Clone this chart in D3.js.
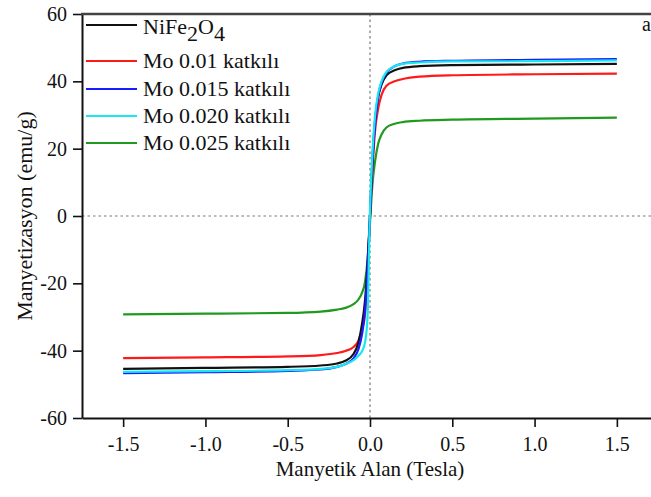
<!DOCTYPE html>
<html>
<head>
<meta charset="utf-8">
<script src="https://cdn.jsdelivr.net/npm/d3@7"></script>
<style>
    body { margin: 0; background: #fff; }
    text { font-family: "Liberation Serif", "Times New Roman", serif; fill: #111; }
</style>
</head>
<body>
<svg id="chart" width="651" height="497"></svg>
<script>
// field values (Tesla), shared by all samples
var field = [-1.5, -1.0, -0.5, -0.3, -0.2, -0.15, -0.1, -0.07, -0.05, -0.03, -0.015, 0,
    0.015, 0.03, 0.05, 0.07, 0.1, 0.15, 0.2, 0.3, 0.5, 1.0, 1.5];

// magnetization (emu/g)
var nife2o4 = [-45.4, -45.1, -44.8, -44.4, -43.8, -43.0, -41.0, -37.5, -32.5, -25, -14, 0,
    17, 28, 35.5, 39, 41.8, 43.3, 44.0, 44.5, 44.8, 45.0, 45.2];
var mo010 = [-42.2, -42.0, -41.7, -41.3, -40.7, -40.1, -38.9, -37, -34, -29, -18, 0,
    14, 25, 32, 36, 38.7, 40.0, 40.7, 41.4, 41.8, 42.1, 42.3];
var mo015 = [-46.7, -46.4, -46.0, -45.6, -44.8, -44.0, -42.3, -39.5, -35.5, -28, -16, 0,
    16, 27, 35.5, 39.5, 42.5, 44.5, 45.3, 45.8, 46.1, 46.4, 46.6];
var mo020 = [-46.3, -46.1, -45.8, -45.4, -44.8, -44.0, -42.8, -41.5, -40.3, -37.5, -30, 2,
    19, 29.5, 36.5, 40, 42.8, 44.5, 45.2, 45.6, 45.9, 46.0, 46.2];
var mo025 = [-29.2, -29.0, -28.8, -28.4, -27.8, -27.3, -26.2, -24.8, -23, -19.5, -13, -2,
    9.5, 16, 21.5, 24.2, 26.3, 27.4, 27.9, 28.3, 28.6, 28.9, 29.2];

var seriesNames = ['NiFe2O4', 'Mo 0.01 katkılı', 'Mo 0.015 katkılı', 'Mo 0.020 katkılı', 'Mo 0.025 katkılı'];
var seriesColors = ['#111111', '#ff1a1a', '#1a1aff', '#1ae6f0', '#1f9a1f'];
var seriesValues = [nife2o4, mo010, mo015, mo020, mo025];

var xTicks = [-1.5, -1.0, -0.5, 0.0, 0.5, 1.0, 1.5];
var yTicks = [-60, -40, -20, 0, 20, 40, 60];

var svg = d3.select('#chart');

var x = d3.scaleLinear().domain([-1.75, 1.75]).range([82, 658]);
var y = d3.scaleLinear().domain([-60, 60]).range([418, 14]);

// zero reference lines
svg.append('line')
    .attr('x1', x(0)).attr('x2', x(0))
    .attr('y1', y(60)).attr('y2', y(-60))
    .attr('stroke', '#777').attr('stroke-width', 1.2)
    .attr('stroke-dasharray', '2.5,3');
svg.append('line')
    .attr('x1', x(-1.75)).attr('x2', 651)
    .attr('y1', y(0)).attr('y2', y(0))
    .attr('stroke', '#777').attr('stroke-width', 1.2)
    .attr('stroke-dasharray', '2.5,3');

// curves
var line = d3.line()
    .x(function (d, i) { return x(field[i]); })
    .y(function (d) { return y(d); })
    .curve(d3.curveMonotoneX);

// draw order: cyan ends up on top like in the original
[4, 1, 0, 2, 3].forEach(function (k) {
    svg.append('path')
        .attr('d', line(seriesValues[k]))
        .attr('fill', 'none')
        .attr('stroke', seriesColors[k])
        .attr('stroke-width', 2.2);
});

// axes
var minorX = d3.range(-1.75, 1.76, 0.25);
var minorY = d3.range(-60, 61, 10);

var xAxis = svg.append('g')
    .attr('transform', 'translate(0,' + y(-60) + ')');
xAxis.call(d3.axisBottom(x).tickValues(minorX).tickSize(5).tickSizeOuter(0).tickFormat(''));
xAxis.call(d3.axisBottom(x).tickValues(xTicks).tickSize(9).tickSizeOuter(0).tickPadding(10)
    .tickFormat(function (d) { return d.toFixed(1); }));
xAxis.selectAll('path').attr('stroke', '#111').attr('stroke-width', 2);
xAxis.selectAll('line').attr('stroke', '#111').attr('stroke-width', 1.6);
xAxis.selectAll('text')
    .attr('font-size', 20)
    .style('font-family', '"Liberation Serif", serif');

var yAxis = svg.append('g')
    .attr('transform', 'translate(' + x(-1.75) + ',0)');
yAxis.call(d3.axisLeft(y).tickValues(minorY).tickSize(5).tickSizeOuter(0).tickFormat(''));
yAxis.call(d3.axisLeft(y).tickValues(yTicks).tickSize(9).tickSizeOuter(0).tickPadding(6)
    .tickFormat(function (d) { return String(d); }));
yAxis.selectAll('path').attr('stroke', '#111').attr('stroke-width', 2);
yAxis.selectAll('line').attr('stroke', '#111').attr('stroke-width', 1.6);
yAxis.selectAll('text')
    .attr('font-size', 20)
    .style('font-family', '"Liberation Serif", serif');

// top frame
svg.append('line')
    .attr('x1', x(-1.75) - 1).attr('x2', 651)
    .attr('y1', y(60)).attr('y2', y(60))
    .attr('stroke', '#444').attr('stroke-width', 2.5);

// axis titles
svg.append('text')
    .attr('x', x(0)).attr('y', 476)
    .attr('text-anchor', 'middle')
    .attr('font-size', 21)
    .text('Manyetik Alan (Tesla)');
svg.append('text')
    .attr('transform', 'translate(32,' + y(0) + ') rotate(-90)')
    .attr('text-anchor', 'middle')
    .attr('font-size', 22)
    .text('Manyetizasyon (emu/g)');

// panel letter
svg.append('text')
    .attr('x', 642).attr('y', 31)
    .attr('font-size', 20)
    .text('a');

// legend
var legendY = [25, 61, 89, 116, 143];
var legend = svg.append('g');
seriesNames.forEach(function (name, k) {
    legend.append('line')
        .attr('x1', 86).attr('x2', 137)
        .attr('y1', legendY[k]).attr('y2', legendY[k])
        .attr('stroke', seriesColors[k]).attr('stroke-width', 2);
    var t = legend.append('text')
        .attr('x', 143)
        .attr('font-size', 22);
    if (k === 0) {
        t.attr('y', legendY[k] + 9);
        t.append('tspan').text('NiFe');
        t.append('tspan').attr('dy', 7).text('2');
        t.append('tspan').attr('dy', -7).text('O');
        t.append('tspan').attr('dy', 7).text('4');
    } else {
        t.attr('y', legendY[k] + 7).text(name);
    }
});
</script>
</body>
</html>
